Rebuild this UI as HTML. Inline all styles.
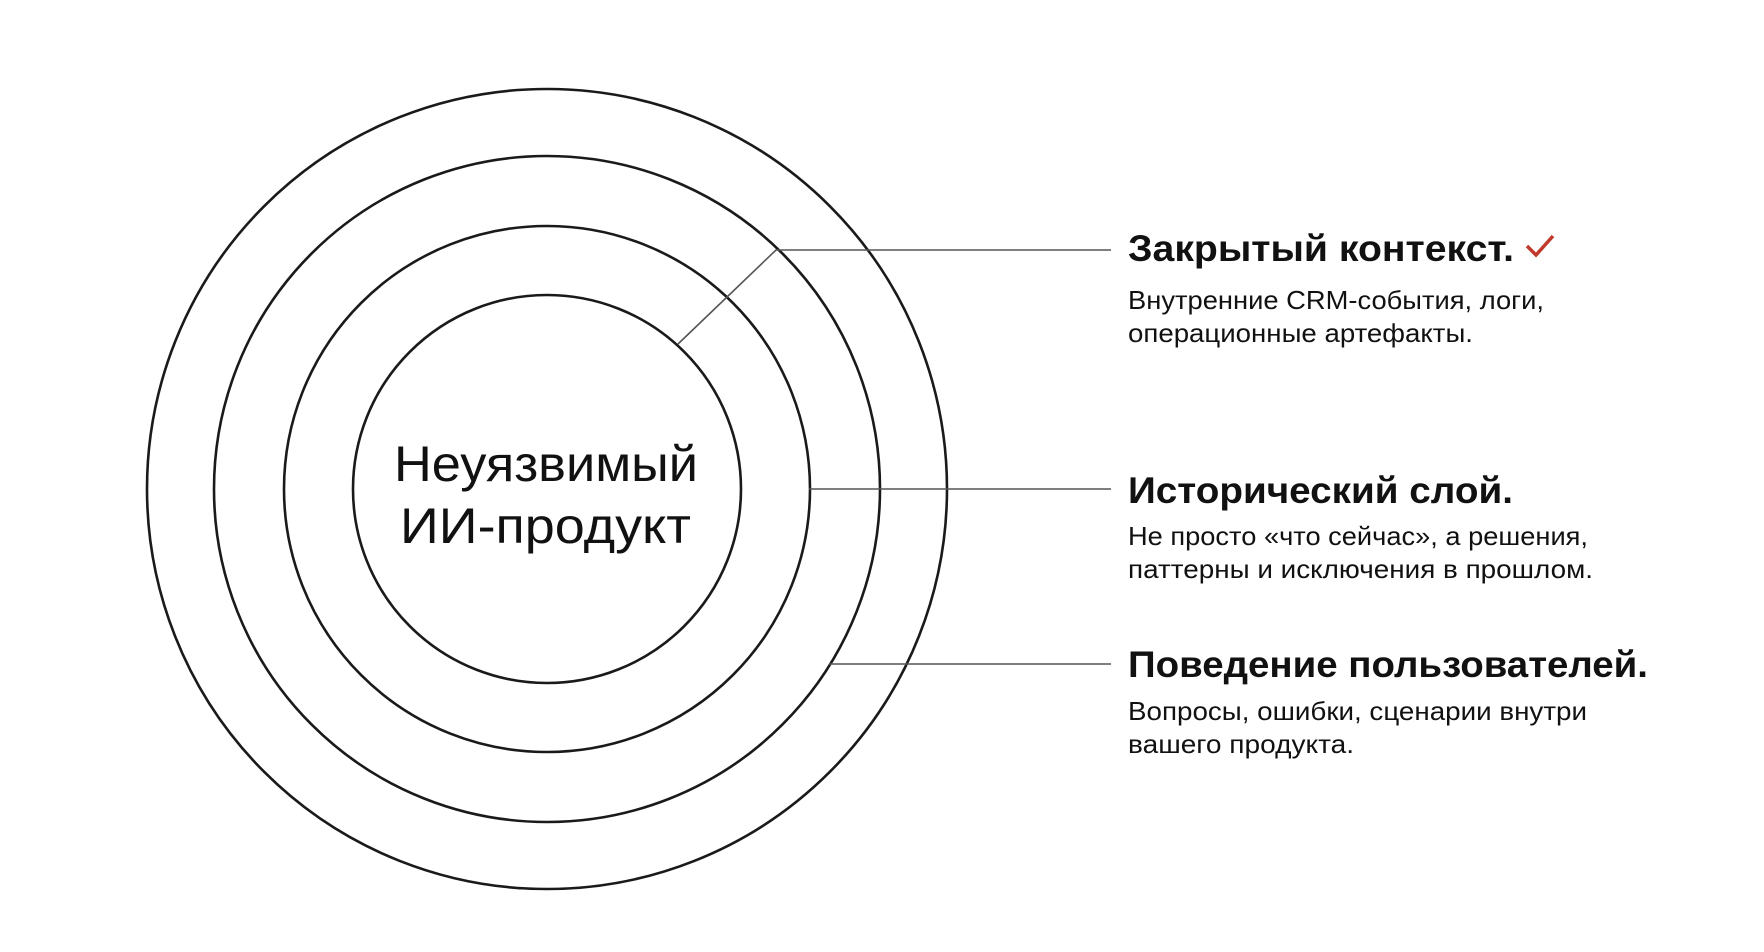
<!DOCTYPE html>
<html><head><meta charset="utf-8"><style>
html,body{margin:0;padding:0;background:#fff;}
svg{display:block;}
text{font-family:"Liberation Sans","DejaVu Sans",sans-serif;fill:#111;}
</style></head><body>
<svg width="1764" height="952" viewBox="0 0 1764 952" xmlns="http://www.w3.org/2000/svg">
<g fill="none" stroke="#1a1a1a" stroke-width="2.6">
<circle cx="547" cy="489" r="400"/>
<circle cx="547" cy="489" r="333"/>
<circle cx="547" cy="489" r="263"/>
<circle cx="547" cy="489" r="194"/>
</g>
<g fill="none" stroke="#555" stroke-width="1.6">
<polyline points="678,344 776,250 1111,250"/>
<line x1="809" y1="489" x2="1111" y2="489"/>
<line x1="829" y1="664" x2="1111" y2="664"/>
</g>
<text x="394" y="481" font-size="50" textLength="304" lengthAdjust="spacingAndGlyphs">Неуязвимый</text>
<text x="400" y="543" font-size="50" textLength="291" lengthAdjust="spacingAndGlyphs">ИИ-продукт</text>

<text x="1128" y="261" font-size="37" font-weight="bold" textLength="386" lengthAdjust="spacingAndGlyphs">Закрытый контекст.</text>
<polyline points="1527,246 1536,255 1553,236" fill="none" stroke="#c0392b" stroke-width="3.5"/>
<text x="1128" y="309" font-size="26" fill="#222" textLength="416" lengthAdjust="spacingAndGlyphs">Внутренние CRM-события, логи,</text>
<text x="1128" y="342" font-size="26" textLength="345" lengthAdjust="spacingAndGlyphs">операционные артефакты.</text>

<text x="1128" y="503" font-size="37" font-weight="bold" textLength="385" lengthAdjust="spacingAndGlyphs">Исторический слой.</text>
<text x="1128" y="545" font-size="26" textLength="460" lengthAdjust="spacingAndGlyphs">Не просто «что сейчас», а решения,</text>
<text x="1128" y="578" font-size="26" textLength="465" lengthAdjust="spacingAndGlyphs">паттерны и исключения в прошлом.</text>

<text x="1128" y="677" font-size="37" font-weight="bold" textLength="520" lengthAdjust="spacingAndGlyphs">Поведение пользователей.</text>
<text x="1128" y="720" font-size="26" textLength="459" lengthAdjust="spacingAndGlyphs">Вопросы, ошибки, сценарии внутри</text>
<text x="1128" y="753" font-size="26" textLength="226" lengthAdjust="spacingAndGlyphs">вашего продукта.</text>
</svg>
</body></html>
